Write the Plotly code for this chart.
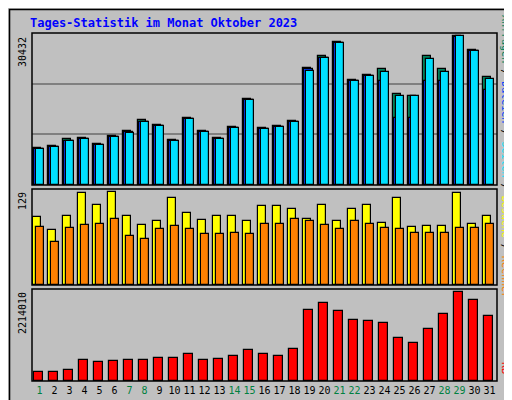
import plotly.graph_objects as go

days = list(range(1, 32))
weekend = [1, 7, 8, 14, 15, 21, 22, 28, 29]

hits = [7400, 7800, 9200, 9400, 8200, 9800, 10800, 13000, 12000, 9000, 13400, 10800, 9400,
        11600, 17200, 11400, 11800, 12800, 23400, 25800, 28600, 21000, 22000, 23200, 18200,
        17800, 25800, 23200, 29800, 27000, 21600]
files = [7200, 7600, 8800, 9200, 8000, 9700, 10600, 12600, 11800, 8800, 13200, 10600, 9200,
         11400, 17000, 11200, 11600, 12600, 23200, 25400, 28400, 20800, 21800, 20800, 13400,
         13400, 20800, 20800, 29600, 26800, 19000]
pages = [7200, 7600, 8800, 9200, 8000, 9700, 10400, 12600, 11800, 8800, 13200, 10600, 9200,
         11400, 17000, 11200, 11600, 12600, 22800, 25400, 28400, 20800, 21800, 22600, 17800,
         17800, 25200, 22600, 29800, 26800, 21200]
visits = [91, 74, 93, 124, 107, 125, 93, 81, 86, 117, 97, 87, 93, 93, 86, 106, 106, 102,
          89, 107, 86, 102, 107, 83, 117, 78, 79, 79, 124, 82, 93]
sites = [78, 58, 76, 81, 82, 89, 66, 62, 75, 79, 75, 68, 68, 70, 68, 82, 82, 89, 86, 81,
         75, 86, 82, 76, 75, 70, 70, 70, 76, 76, 82]
kbytes = [216000, 216000, 264000, 505000, 457000, 481000, 505000, 505000, 553000, 553000,
          650000, 505000, 529000, 602000, 746000, 650000, 602000, 770000, 1709000, 1877000,
          1685000, 1468000, 1444000, 1396000, 1035000, 915000, 1252000, 1613000, 2142000,
          1949000, 1564000]

max_hits, max_visits, max_kb = 30432, 129, 2214010

BG = "#C0C0C0"
XD = [24 / 512, 489 / 512]
def dom(t, b):
    return [1 - b / 400, 1 - t / 400]

fig = go.Figure()

def bars(vals, color, off, ax):
    fig.add_trace(go.Bar(x=days, y=vals, marker=dict(color=color, line=dict(color="black", width=1.2)),
                         width=0.55, offset=off, xaxis=ax[0], yaxis=ax[1], showlegend=False))

bars(hits, "#00805C", -0.42, ("x", "y"))
bars(files, "#0040FF", -0.34, ("x", "y"))
bars(pages, "#00E0FF", -0.26, ("x", "y"))
bars(visits, "#FFFF00", -0.42, ("x2", "y2"))
bars(sites, "#FF8000", -0.26, ("x2", "y2"))
bars(kbytes, "#FF0000", -0.34, ("x3", "y3"))

tick_text = ["<span style='color:#008040'>%d</span>" % d if d in weekend else str(d) for d in days]

common_x = dict(range=[0.5, 31.5], domain=XD, showgrid=False, zeroline=False,
                tickvals=days, ticks="", fixedrange=True)
fig.update_layout(
    xaxis=dict(**common_x, anchor="y", showticklabels=False),
    xaxis2=dict(**common_x, anchor="y2", showticklabels=False),
    xaxis3=dict(**common_x, anchor="y3", ticktext=tick_text, tickangle=0, ticklabelstandoff=2,
                tickfont=dict(family="DejaVu Sans Mono", size=10, color="black")),
    yaxis=dict(domain=dom(25, 177), range=[0, max_hits], tickvals=[max_hits / 3, 2 * max_hits / 3],
               showticklabels=False, gridcolor="#808080", gridwidth=1.5, zeroline=False),
    yaxis2=dict(domain=dom(181, 277), range=[0, max_visits], showticklabels=False,
                showgrid=False, zeroline=False),
    yaxis3=dict(domain=dom(281, 373), range=[0, max_kb], showticklabels=False,
                showgrid=False, zeroline=False),
    barmode="overlay", bargap=0,
    width=512, height=400, margin=dict(l=0, r=0, t=0, b=0),
    paper_bgcolor=BG, plot_bgcolor=BG,
    font=dict(family="DejaVu Sans Mono", color="black"),
)

# panel frames
for t, b in [(25, 177), (181, 277), (281, 373)]:
    d = dom(t, b)
    fig.add_shape(type="rect", xref="paper", yref="paper", x0=XD[0], x1=XD[1], y0=d[0], y1=d[1],
                  line=dict(color="black", width=1.5), layer="above")
# outer 3D frame
fig.add_shape(type="rect", xref="paper", yref="paper", x0=0.003, x1=0.985, y0=0.004, y1=0.996,
              line=dict(color="black", width=1.5))
fig.add_shape(type="rect", xref="paper", yref="paper", x0=0.987, x1=1.0, y0=0, y1=0.99,
              fillcolor="#808080", line=dict(width=0))
fig.add_shape(type="rect", xref="paper", yref="paper", x0=0.01, x1=1.0, y0=0, y1=0.002,
              fillcolor="#808080", line=dict(width=0))

ann = []
ann.append(dict(x=20 / 512, y=1 - 15 / 400, text="<b>Tages-Statistik im Monat Oktober 2023</b>",
                xanchor="left", yanchor="middle", font=dict(family="DejaVu Sans Mono", size=12, color="#0000FF")))
for label, top in [("30432", 27), ("129", 182), ("2214010", 282)]:
    ann.append(dict(x=14 / 512, y=1 - top / 400, text=label, textangle=-90, xanchor="center",
                    yanchor="top", font=dict(size=10, color="black")))
ann.append(dict(x=498 / 512, y=1 - 148 / 400, textangle=90, xanchor="center", yanchor="middle",
                text="<span style='color:#00805C'>Anfragen</span> / <span style='color:#0040FF'>Dateien</span>"
                     " / <span style='color:#00E0FF'>Seiten</span> / <span style='color:#FFFF00'>Besuche</span>"
                     " / <span style='color:#FF8000'>Rechner</span>",
                font=dict(size=10, color="black")))
ann.append(dict(x=498 / 512, y=1 - 368 / 400, textangle=90, xanchor="center", yanchor="bottom",
                text="KB", font=dict(size=10, color="#FF0000")))
for a in ann:
    a.update(xref="paper", yref="paper", showarrow=False)
fig.update_layout(annotations=ann)

fig.write_html("out.html")
